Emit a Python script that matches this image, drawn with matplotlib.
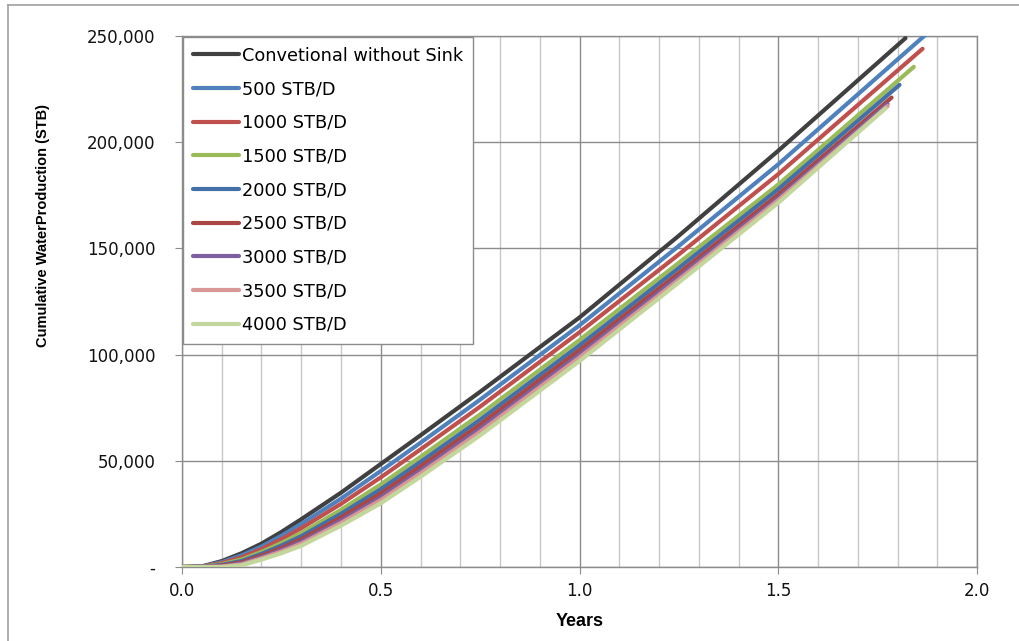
import matplotlib
matplotlib.use("Agg")
import matplotlib.pyplot as plt
from matplotlib.ticker import FuncFormatter, MultipleLocator
from matplotlib.lines import Line2D

# cumulative water production vs time, one curve per sink rate
series_names = ["Convetional without Sink", "500 STB/D", "1000 STB/D", "1500 STB/D",
                "2000 STB/D", "2500 STB/D", "3000 STB/D", "3500 STB/D", "4000 STB/D"]
colors = ["#404040", "#4F81BD", "#C0504D", "#9BBB59", "#4470A8",
          "#AA4643", "#7D60A0", "#D99795", "#C3D69B"]

years_base = [0.0, 0.05, 0.1, 0.15, 0.2, 0.25, 0.3, 0.4, 0.5, 0.6, 0.75, 1.0, 1.25, 1.5]

conv_y  = [0, 300, 2800, 6500, 11000, 16500, 22500, 35000, 48500, 62000, 82500, 117500, 156000, 196000, 249000]
s500_y  = [0, 250, 2300, 5500, 9650, 14700, 20250, 32200, 45200, 58500, 78800, 113800, 151200, 189600, 250500]
s1000_y = [0, 200, 1850, 4560, 8450, 13100, 18250, 29730, 42210, 55370, 75530, 110530, 147200, 184970, 244000]
s1500_y = [0, 140, 1340, 3540, 7100, 11300, 16000, 26940, 38880, 51860, 71840, 106840, 143240, 180070, 235500]
s2000_y = [0, 110, 1010, 2850, 6200, 10100, 14500, 25080, 36660, 49520, 69380, 104380, 140820, 177870, 227000]
s2500_y = [0, 75, 700, 2220, 5370, 9000, 13120, 23370, 34620, 47370, 67120, 102120, 138400, 175420, 221000]
s3000_y = [0, 45, 420, 1650, 4620, 8000, 11870, 21820, 32770, 45420, 65070, 100070, 136640, 173700, 218000]
s3500_y = [0, 25, 220, 1260, 4100, 7300, 11000, 20740, 31480, 44060, 63640, 98640, 135320, 172720, 217000]
s4000_y = [0, 0, 0, 800, 3500, 6500, 10000, 19500, 30000, 42500, 62000, 97000, 134000, 171500, 216000]

# last reported time for each run
end_years = [1.82, 1.87, 1.863, 1.841, 1.805, 1.785, 1.775, 1.775, 1.77]

all_y = [conv_y, s500_y, s1000_y, s1500_y, s2000_y, s2500_y, s3000_y, s3500_y, s4000_y]

fig = plt.figure(figsize=(10.19, 6.41), dpi=100)
ax = fig.add_axes([0.1786, 0.1154, 0.7802, 0.8284])

# outer chart border (top and left edges visible)
fig.add_artist(Line2D([8 / 1019, 8 / 1019], [0, 1 - 5 / 641], color="#A0A0A0", lw=1.2))
fig.add_artist(Line2D([8 / 1019, 1], [1 - 5 / 641, 1 - 5 / 641], color="#A0A0A0", lw=1.2))

for name, col, ys, xe in zip(series_names, colors, all_y, end_years):
    xs = years_base + [xe]
    ax.plot(xs, ys, color=col, lw=3.0, label=name, solid_capstyle="round",
            solid_joinstyle="round", zorder=3)

ax.set_xlim(0, 2.0)
ax.set_ylim(0, 250000)
ax.xaxis.set_major_locator(MultipleLocator(0.5))
ax.xaxis.set_minor_locator(MultipleLocator(0.1))
ax.yaxis.set_major_locator(MultipleLocator(50000))

ax.grid(which="major", axis="both", color="#8C8C8C", lw=1.0, zorder=0)
ax.grid(which="minor", axis="x", color="#C8C8C8", lw=1.0, zorder=0)
ax.set_axisbelow(True)

ax.xaxis.set_major_formatter(FuncFormatter(lambda v, p: f"{v:.1f}"))
ax.yaxis.set_major_formatter(FuncFormatter(lambda v, p: "-" if v == 0 else f"{int(v):,}"))

for s in ax.spines.values():
    s.set_color("#8C8C8C")
    s.set_linewidth(1.0)

ax.tick_params(axis="both", which="major", direction="out", length=5,
               color="#8C8C8C", labelsize=12, labelcolor="#111111")
ax.tick_params(axis="x", which="minor", length=0)
ax.tick_params(axis="y", pad=14)
ax.tick_params(axis="x", pad=6)

label_font = ["Liberation Sans", "DejaVu Sans"]
ax.set_xlabel("Years", fontsize=13, fontweight="bold", family=label_font, labelpad=9)
ax.set_ylabel("Cumulative WaterProduction (STB)", fontsize=10.5, fontweight="bold",
              family=label_font)
ax.yaxis.set_label_coords(-0.166, 0.644)

leg = ax.legend(loc="upper left", bbox_to_anchor=(0.0, 1.0), borderaxespad=0.05,
                fontsize=12.8, frameon=True, fancybox=False, framealpha=1.0,
                edgecolor="#8C8C8C", handlelength=2.6, handletextpad=0.2,
                labelspacing=0.88, borderpad=0.55)
leg.get_frame().set_linewidth(1.0)
leg.set_zorder(5)

fig.savefig("out.png", dpi=100)
